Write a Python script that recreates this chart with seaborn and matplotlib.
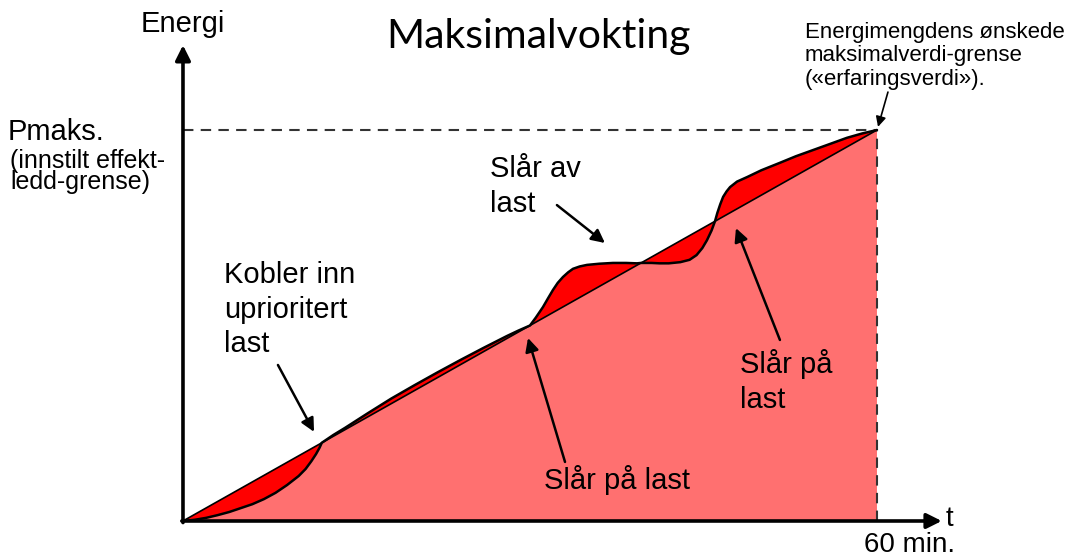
import numpy
import pandas
import seaborn as sea
from matplotlib import pyplot

# time in minutes, energy as fraction of Pmaks
minutes = [0.0, 1.0, 2.0, 3.0, 4.0, 5.0, 6.0, 7.0, 8.0, 9.0, 10.0,
           10.6, 11.1, 11.5, 11.8, 12.0,
           12.5, 13.0, 14.0, 16.0, 18.0, 20.0, 22.0, 24.0, 26.0, 28.0,
           29.0, 30.0,
           30.5, 31.12, 31.55, 31.99, 32.4, 32.85, 33.3, 33.72, 34.3,
           34.93, 36.0, 37.18, 38.3, 39.25, 39.6,
           40.5, 41.2, 42.0, 43.0, 43.8, 44.4, 44.9, 45.3, 45.7, 46.0,
           46.2, 46.45, 46.7, 47.0, 47.3, 47.9, 48.8, 50.0, 51.6, 53.0,
           54.5, 56.0, 57.4, 58.7, 60.0]
energy = [0.0, 0.003, 0.008, 0.015, 0.023, 0.033, 0.043, 0.056, 0.072,
          0.092, 0.115, 0.133, 0.153, 0.171, 0.187, 0.200,
          0.210, 0.220, 0.238, 0.276, 0.313, 0.347, 0.380, 0.412, 0.443,
          0.473, 0.487, 0.500,
          0.520, 0.547, 0.569, 0.591, 0.609, 0.624, 0.636, 0.645, 0.651,
          0.655, 0.658, 0.660, 0.660, 0.659, 0.660,
          0.660, 0.659, 0.659, 0.662, 0.668, 0.680, 0.698, 0.718, 0.743,
          0.767,
          0.788, 0.810, 0.829, 0.843, 0.854, 0.868, 0.880, 0.897, 0.916,
          0.933, 0.949, 0.965, 0.980, 0.991, 1.0]

# ideal (linear) energy line
ideal_minutes = [0.0, 60.0]
ideal_energy = [0.0, 1.0]

PINK = "#ff7070"
RED = "#ff0000"


def main():
    sea.set_style("white")
    pyplot.rcParams["font.family"] = ["Liberation Sans", "DejaVu Sans"]
    pyplot.rcParams["text.color"] = "black"

    figure = pyplot.figure(figsize=(10.67, 5.57), dpi=100)
    axis = figure.add_axes([0, 0, 1, 1])
    axis.set_xlim(-15.82, 76.43)
    axis.set_ylim(-0.0921, 1.3325)
    axis.axis("off")

    # area under the ideal line
    axis.fill(ideal_minutes + [ideal_minutes[-1]],
              ideal_energy + [0.0], color=PINK, lw=0, zorder=1)
    # deviation between measured and ideal
    axis.fill(minutes + ideal_minutes[::-1], energy + ideal_energy[::-1],
              color=RED, lw=0, zorder=2)

    curve = pandas.DataFrame({"t": minutes, "e": energy})
    ideal = pandas.DataFrame({"t": ideal_minutes, "e": ideal_energy})
    sea.lineplot(data=ideal, x="t", y="e", ax=axis, color="black",
                 lw=1.2, sort=False, zorder=3)
    sea.lineplot(data=curve, x="t", y="e", ax=axis, color="black",
                 lw=1.8, sort=False, zorder=4)

    # limit lines
    axis.plot([0, 60], [1, 1], color="#333333", lw=1.5,
              dashes=(5, 3.5), zorder=3)
    axis.plot([60, 60], [0, 1], color="#333333", lw=1.5,
              dashes=(5, 3.5), zorder=3)

    # axes with arrow heads
    axis_arrow = dict(arrowstyle="-|>,head_length=0.9,head_width=0.45",
                      color="black", lw=2.6, shrinkA=0, shrinkB=0)
    axis.annotate("", xy=(65.6, 0), xytext=(-0.1, 0),
                  arrowprops=axis_arrow, zorder=6)
    axis.annotate("", xy=(0, 1.217), xytext=(0, -0.004),
                  arrowprops=axis_arrow, zorder=6)

    axis.text(0, 1.271, "Energi", fontsize=21, ha="center", va="center")
    axis.text(66.3, 0.005, "t", fontsize=20, ha="center", va="center")
    axis.text(62.85, -0.062, "60 min.", fontsize=20, ha="center",
              va="center")
    axis.text(30.69, 1.24, "Maksimalvokting", fontsize=29.5, ha="center",
              va="center", family=["Lato", "DejaVu Sans"])

    axis.text(-15.13, 0.995, "Pmaks.", fontsize=21, ha="left",
              va="center")
    axis.text(-14.96, 0.952, "(innstilt effekt-\nledd-grense)",
              fontsize=18, ha="left", va="top", linespacing=0.88)
    axis.text(53.77, 1.276,
              "Energimengdens ønskede\nmaksimalverdi-grense\n"
              "(«erfaringsverdi»).",
              fontsize=16, ha="left", va="top", linespacing=1.15)

    labels = [
        ("Kobler inn\nuprioritert\nlast", 3.54, 0.665),
        ("Slår av\nlast", 26.54, 0.935),
        ("Slår på\nlast", 48.16, 0.44),
    ]
    for text, x, y in labels:
        axis.text(x, y, text, fontsize=21, ha="left", va="top",
                  linespacing=1.3)
    axis.text(31.21, 0.105, "Slår på last", fontsize=21, ha="left",
              va="center")

    pointer = dict(arrowstyle="-|>,head_length=0.8,head_width=0.4",
                   color="black", lw=1.8, shrinkA=0, shrinkB=0)
    arrows = [
        ((8.21, 0.399), (11.33, 0.228)),
        ((32.33, 0.808), (36.48, 0.711)),
        ((33.03, 0.151), (29.83, 0.468)),
        ((51.61, 0.463), (47.81, 0.749)),
    ]
    for start, end in arrows:
        axis.annotate("", xy=end, xytext=start, arrowprops=pointer,
                      zorder=7)
    axis.annotate("", xy=(60.09, 1.008), xytext=(60.95, 1.097),
                  arrowprops=dict(arrowstyle="-|>,head_length=0.6,"
                                  "head_width=0.3", color="black", lw=1.2,
                                  shrinkA=0, shrinkB=0), zorder=7)

    figure.savefig("out.png", dpi=100)


if __name__ == "__main__":
    main()
